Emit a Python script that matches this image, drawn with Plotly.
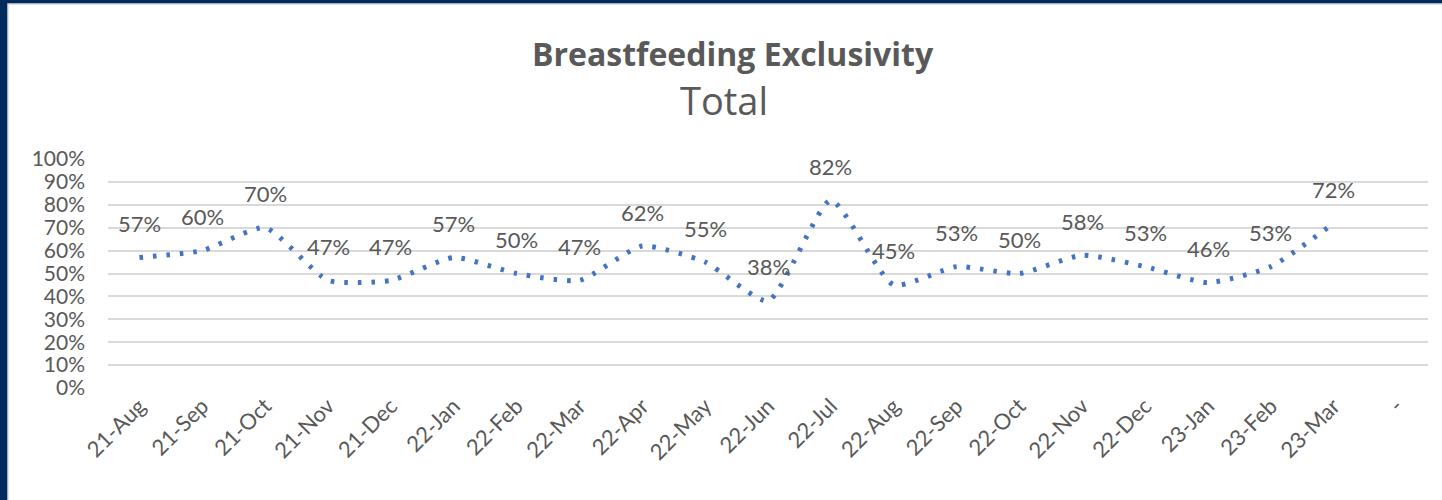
import plotly.graph_objects as go

categories = ["21-Aug", "21-Sep", "21-Oct", "21-Nov", "21-Dec", "22-Jan", "22-Feb",
              "22-Mar", "22-Apr", "22-May", "22-Jun", "22-Jul", "22-Aug", "22-Sep",
              "22-Oct", "22-Nov", "22-Dec", "23-Jan", "23-Feb", "23-Mar", "-"]
values = [0.57, 0.60, 0.70, 0.47, 0.47, 0.57, 0.50, 0.47, 0.62, 0.55, 0.38, 0.82,
          0.45, 0.53, 0.50, 0.58, 0.53, 0.46, 0.53, 0.72, None]
y_ticks = [0, 0.1, 0.2, 0.3, 0.4, 0.5, 0.6, 0.7, 0.8, 0.9, 1.0]

W, H = 1442, 500
L, R, T, B = 108, 14, 159, 112
PW, PH = W - L - R, H - T - B

def px_x(px):
    return (px - L) / PW

def px_y(py):
    return (H - B - py) / PH

FONT = "Lato, 'Open Sans', sans-serif"
TFONT = "'Open Sans', Lato, sans-serif"
GREY = "#595959"
BLUE = "#4472C4"

fig = go.Figure()
fig.add_trace(go.Scatter(
    x=categories, y=values, mode="lines",
    line=dict(color=BLUE, width=5, dash="3.5px,10px", shape="spline", smoothing=0.55),
    connectgaps=False, hoverinfo="skip", showlegend=False,
))

annotations = []
for c, v in zip(categories, values):
    if v is None:
        continue
    annotations.append(dict(
        x=c, y=v, xref="x", yref="y", text=f"{round(v*100)}%", showarrow=False,
        yshift=34, font=dict(family=FONT, size=22, color=GREY),
    ))

annotations.append(dict(
    x=px_x(733), y=px_y(53), xref="paper", yref="paper", showarrow=False,
    text="<b>Breastfeeding Exclusivity</b>", font=dict(family=TFONT, size=32, color=GREY),
    xanchor="center", yanchor="middle",
))
annotations.append(dict(
    x=px_x(724), y=px_y(100), xref="paper", yref="paper", showarrow=False,
    text="Total", font=dict(family=TFONT, size=38, color=GREY),
    xanchor="center", yanchor="middle",
))

shapes = [
    dict(type="rect", xref="paper", yref="paper",
         x0=px_x(8), x1=px_x(W + 5), y0=px_y(H + 5), y1=px_y(4),
         fillcolor="white", line=dict(color="#D9D9D9", width=1.5), layer="below"),
]

fig.update_layout(
    width=W, height=H,
    margin=dict(l=L, r=R, t=T, b=B),
    paper_bgcolor="#002B5C", plot_bgcolor="white",
    annotations=annotations, shapes=shapes,
    font=dict(family=FONT, color=GREY),
    xaxis=dict(
        type="category", categoryorder="array", categoryarray=categories,
        range=[-0.5, len(categories) - 0.5],
        tickangle=-45, tickfont=dict(family=FONT, size=22, color=GREY),
        showgrid=False, showline=False, zeroline=False, ticks="",
    ),
    yaxis=dict(
        range=[0, 1.0], tickvals=y_ticks, tickformat=".0%",
        tickfont=dict(family=FONT, size=21, color=GREY),
        showgrid=True, gridcolor="#D9D9D9", gridwidth=2,
        zeroline=False, showline=False, ticks="", ticklabelstandoff=22,
    ),
)

fig.write_html(
    "out.html",
    config={"displayModeBar": False},
    post_script="document.body.style.margin='0';document.body.style.overflow='hidden';",
)
